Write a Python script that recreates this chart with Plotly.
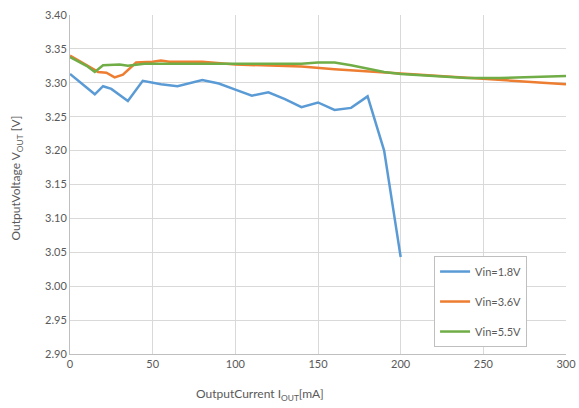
import plotly.graph_objects as go

# Vin = 1.8 V
x_18 = [0, 15, 20, 25, 35, 44, 55, 65, 80, 90, 100, 110, 120, 130, 140, 150, 160, 170, 180, 190, 200]
y_18 = [3.313, 3.283, 3.295, 3.291, 3.273, 3.303, 3.298, 3.295, 3.304, 3.299, 3.290, 3.281, 3.286,
        3.276, 3.264, 3.271, 3.260, 3.263, 3.280, 3.200, 3.043]

# Vin = 3.6 V
x_36 = [0, 10, 17, 22, 27, 32, 40, 50, 55, 60, 80, 100, 120, 140, 160, 180, 200, 220, 250, 280, 300]
y_36 = [3.340, 3.326, 3.316, 3.315, 3.308, 3.312, 3.330, 3.331, 3.333, 3.331, 3.331, 3.327, 3.326,
        3.324, 3.320, 3.317, 3.314, 3.310, 3.306, 3.301, 3.298]

# Vin = 5.5 V
x_55 = [0, 10, 15, 20, 30, 35, 45, 60, 80, 100, 120, 140, 150, 160, 170, 180, 190, 200, 220, 240,
        260, 280, 300]
y_55 = [3.338, 3.325, 3.316, 3.326, 3.327, 3.325, 3.328, 3.328, 3.328, 3.327, 3.327, 3.328, 3.330,
        3.330, 3.326, 3.321, 3.316, 3.313, 3.310, 3.307, 3.307, 3.308, 3.310]

series_names = ["Vin=1.8V", "Vin=3.6V", "Vin=5.5V"]
colors = ["#5B9BD5", "#ED7D31", "#70AD47"]

FONT = "Lato"
GRAY = "#595959"

fig = go.Figure()
for i, (xs, ys) in enumerate([(x_18, y_18), (x_36, y_36), (x_55, y_55)]):
    fig.add_trace(go.Scatter(
        x=xs, y=ys, mode="lines", name=series_names[i],
        line=dict(color=colors[i], width=2.5),
        legendgroup=f"g{i}",
    ))

fig.update_layout(
    template="none",
    width=579, height=408,
    margin=dict(l=70, r=13, t=15, b=54, pad=0, autoexpand=False),
    paper_bgcolor="white", plot_bgcolor="white",
    font=dict(family=FONT, size=11, color=GRAY),
    showlegend=True,
    legend=dict(
        x=0.734, y=0.289, xanchor="left", yanchor="top",
        bgcolor="white", bordercolor="#bfbfbf", borderwidth=1,
        font=dict(family=FONT, size=11, color=GRAY),
        tracegroupgap=11, itemwidth=30,
    ),
    xaxis=dict(
        range=[0, 300], dtick=50, tick0=0, automargin=False,
        showgrid=True, gridcolor="#d9d9d9", gridwidth=1,
        showline=True, linecolor="#bfbfbf", linewidth=1,
        zeroline=False, ticks="", ticklen=0,
        tickfont=dict(family=FONT, size=11, color=GRAY),
    ),
    yaxis=dict(
        range=[2.9, 3.4], dtick=0.05, tick0=2.9, tickformat=".2f", automargin=False,
        showgrid=True, gridcolor="#d9d9d9", gridwidth=1,
        showline=True, linecolor="#bfbfbf", linewidth=1,
        zeroline=False, ticks="",
        tickfont=dict(family=FONT, size=11, color=GRAY),
    ),
)

fig.add_annotation(
    text="OutputCurrent I<sub>OUT</sub>[mA]", xref="paper", yref="paper",
    x=(260 - 70) / 496, y=-0.118, xanchor="center", yanchor="middle",
    showarrow=False, font=dict(family=FONT, size=12, color=GRAY),
)
fig.add_annotation(
    text="OutputVoltage V<sub>OUT</sub> [V]", xref="paper", yref="paper",
    x=-0.108, y=(354 - 178) / 339, xanchor="center", yanchor="middle",
    textangle=-90, showarrow=False, font=dict(family=FONT, size=12, color=GRAY),
)

fig.write_html(
    "out.html",
    config={"displayModeBar": False},
    post_script="document.body.style.margin='0';document.body.style.overflow='hidden';",
)
